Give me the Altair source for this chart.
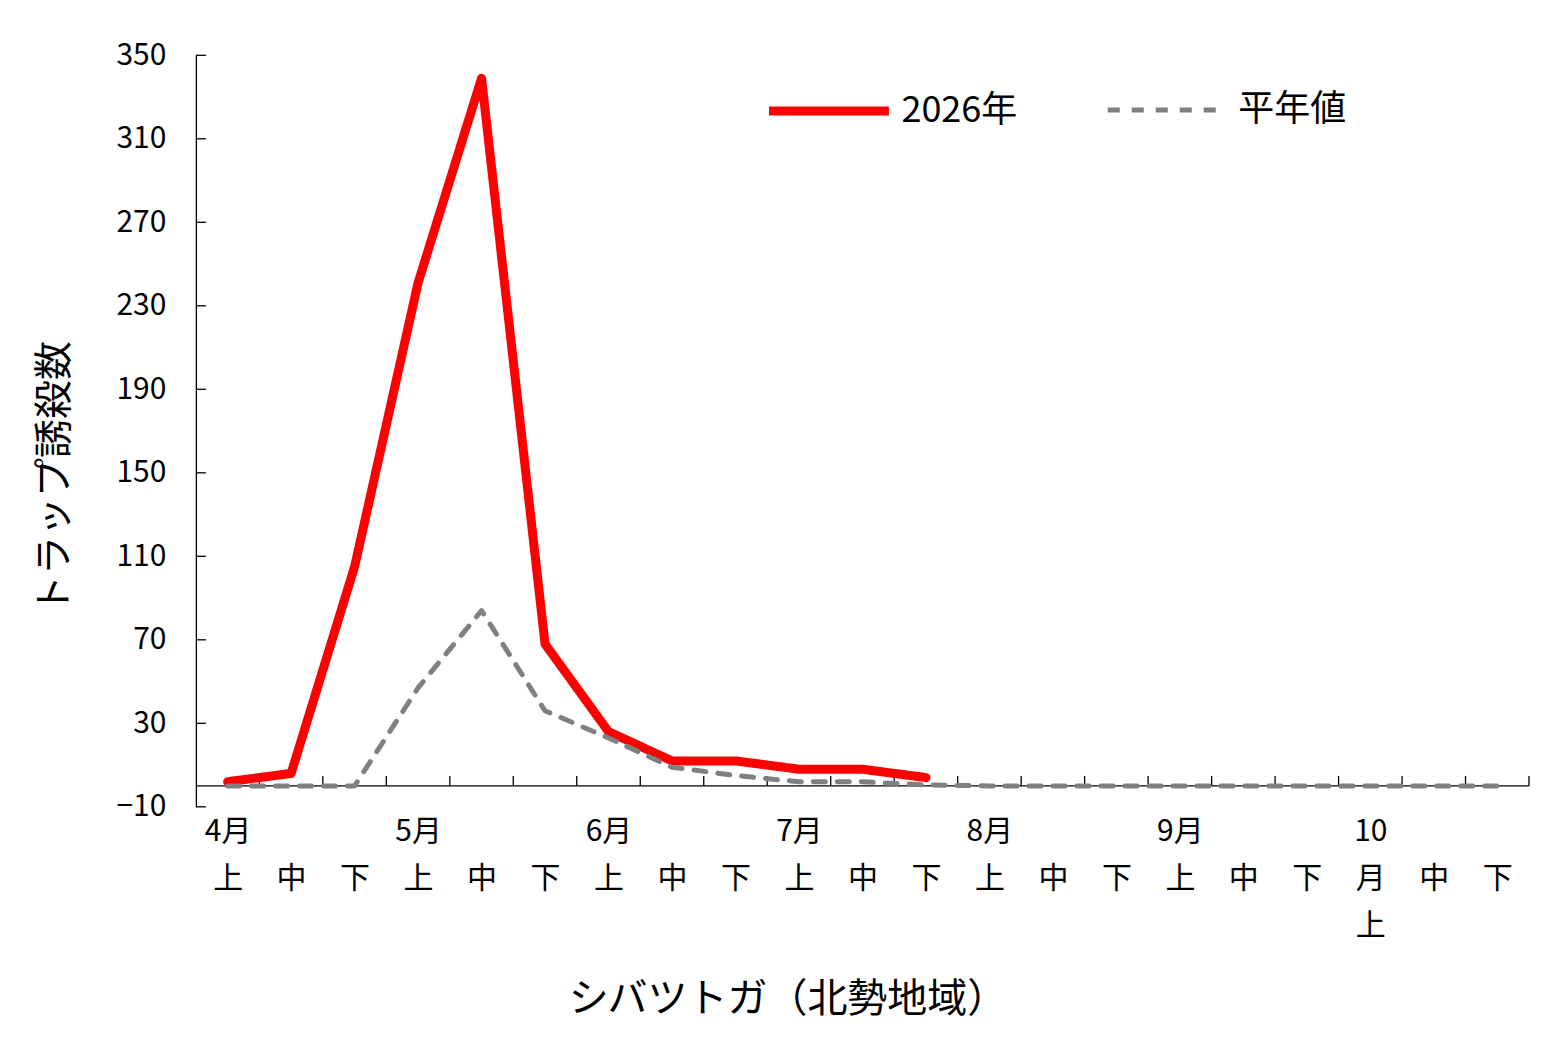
import json
import altair as alt
import pandas as pd

# ---- data ----
x_tick_labels = [
    ["4月", "上"], ["", "中"], ["", "下"],
    ["5月", "上"], ["", "中"], ["", "下"],
    ["6月", "上"], ["", "中"], ["", "下"],
    ["7月", "上"], ["", "中"], ["", "下"],
    ["8月", "上"], ["", "中"], ["", "下"],
    ["9月", "上"], ["", "中"], ["", "下"],
    ["10", "月", "上"], ["", "中"], ["", "下"],
]
series_names = ["2026年", "平年値"]
values_2026 = [2, 6, 105, 241, 339, 68, 26, 12, 12, 8, 8, 4]
values_normal = [0, 0, 0, 47, 84, 36, 23, 9, 5, 2, 2, 0.5,
                 0, 0, 0, 0, 0, 0, 0, 0, 0]
y_tick_values = [-10, 30, 70, 110, 150, 190, 230, 270, 310, 350]
y_title = "トラップ誘殺数"
x_title = "シバツトガ（北勢地域）"

rows = []
for i, v in enumerate(values_2026):
    rows.append({"idx": i, "value": v, "series": series_names[0]})
for i, v in enumerate(values_normal):
    rows.append({"idx": i, "value": v, "series": series_names[1]})
df = pd.DataFrame(rows)

n = len(x_tick_labels)
boundaries = pd.DataFrame({"b": [i + 0.5 for i in range(n)]})
yticks_df = pd.DataFrame({"v": y_tick_values})

FONT = "Noto Sans CJK JP"
W, H = 1334, 752

x_scale = alt.Scale(domain=[-0.5, n - 0.5], nice=False, zero=False)
y_scale = alt.Scale(domain=[-10, 350], nice=False, zero=False)

label_expr = json.dumps(x_tick_labels, ensure_ascii=False) + "[datum.value]"


def make_legend():
    return alt.Legend(title=None, orient="none", legendX=569, legendY=-9,
                      direction="horizontal", symbolType="stroke",
                      symbolSize=14400, labelFontSize=36,
                      labelFont=FONT, labelColor="black",
                      labelOffset=8, columnPadding=80)


lines = alt.Chart(df).mark_line(strokeCap="round", strokeJoin="round").encode(
    x=alt.X("idx:Q", scale=x_scale,
            axis=alt.Axis(values=list(range(n)), labelExpr=label_expr,
                          domain=False, ticks=False, tickSize=0, grid=False,
                          labelPadding=10, labelFontSize=30, labelLineHeight=47,
                          labelBaseline="top", labelAlign="center",
                          labelFlush=False, labelOverlap=False,
                          labelColor="black", labelFont=FONT,
                          title=x_title, titleFontSize=40, titleFont=FONT,
                          titleFontWeight="normal", titleColor="black",
                          titleX=592, titleY=193, titleBaseline="middle",
                          titleAlign="center")),
    y=alt.Y("value:Q", scale=y_scale,
            axis=alt.Axis(values=y_tick_values, ticks=False, tickSize=0,
                          grid=False, domainColor="black", domainWidth=1.3,
                          labelPadding=30, labelFontSize=30, labelColor="black",
                          labelFont=FONT,
                          title=y_title, titleFontSize=39, titleFont=FONT,
                          titleFontWeight="normal", titleColor="black",
                          titleX=-141, titleY=422, titleAngle=-90,
                          titleBaseline="middle", titleAlign="center")),
    color=alt.Color("series:N",
                    scale=alt.Scale(domain=series_names, range=["#FF0000", "#808080"]),
                    legend=make_legend()),
    strokeDash=alt.StrokeDash("series:N",
                              scale=alt.Scale(domain=series_names, range=[[1, 0], [12, 12]]),
                              legend=make_legend()),
    strokeWidth=alt.StrokeWidth("series:N",
                                scale=alt.Scale(domain=series_names, range=[9, 5]),
                                legend=make_legend()),
    detail="series:N",
)

zero_line = alt.Chart(pd.DataFrame({"z": [0]})).mark_rule(color="black", strokeWidth=1.3).encode(
    y=alt.Y("z:Q", scale=y_scale)
)

x_ticks = alt.Chart(boundaries).mark_rule(color="black", strokeWidth=1.3, y2Offset=-10).encode(
    x=alt.X("b:Q", scale=x_scale),
    y=alt.datum(0, scale=y_scale),
    y2=alt.datum(0),
)

y_ticks = alt.Chart(yticks_df).mark_rule(color="black", strokeWidth=1.3, x2Offset=10).encode(
    y=alt.Y("v:Q", scale=y_scale),
    x=alt.datum(-0.5),
    x2=alt.datum(-0.5),
)

chart = alt.layer(zero_line, x_ticks, y_ticks, lines).properties(
    width=W, height=H,
    autosize=alt.AutoSizeParams(type="none"),
    padding={"left": 188, "top": 47, "right": 30, "bottom": 230},
).configure(font=FONT, background="white").configure_view(stroke=None)

chart.save("out.html", embed_options={"renderer": "svg", "actions": False})
